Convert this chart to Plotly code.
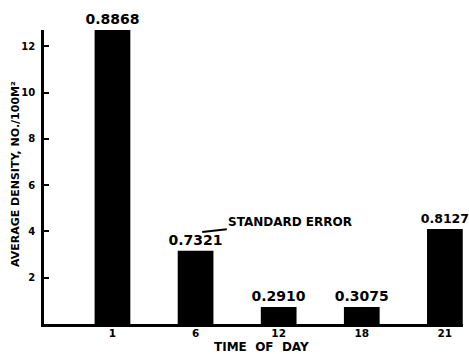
import plotly.graph_objects as go

hours = ["1", "6", "12", "18", "21"]
density = [12.7, 3.16, 0.73, 0.73, 4.10]
std_error = ["0.8868", "0.7321", "0.2910", "0.3075", "0.8127"]
y_ticks = [2, 4, 6, 8, 10, 12]

FONT = "DejaVu Sans"

fig = go.Figure(
    go.Bar(
        x=hours,
        y=density,
        text=std_error,
        textposition="outside",
        constraintext="none",
        cliponaxis=False,
        textfont=dict(family=FONT, size=[14, 14, 14, 14, 12.5], color="black", weight="bold"),
        marker=dict(color="black", line=dict(width=0)),
        width=0.43,
    )
)

fig.add_annotation(
    x=1.08, y=3.97, xref="x", yref="y",
    ax=2.14, ay=4.41, axref="x", ayref="y",
    text="STANDARD ERROR",
    showarrow=True, arrowhead=0, arrowwidth=2, arrowcolor="black",
    font=dict(family=FONT, size=12, color="black", weight="bold"),
)

# axis titles placed as annotations for exact positioning
fig.add_annotation(
    x=0.5, y=-0.079, xref="paper", yref="paper", xanchor="center", yanchor="middle",
    xshift=8, borderpad=0, text="TIME\u00a0 OF\u00a0 DAY", showarrow=False,
    font=dict(family=FONT, size=12, color="black", weight="bold"),
)
fig.add_annotation(
    x=-0.069, y=0.5, xref="paper", yref="paper", xanchor="center", yanchor="middle",
    yshift=3, text="AVERAGE DENSITY, NO./100M²", textangle=-90, showarrow=False,
    font=dict(family=FONT, size=11, color="black", weight="bold"),
)

fig.update_layout(
    width=469, height=354,
    margin=dict(l=44, r=6, t=30, b=30, autoexpand=False),
    paper_bgcolor="white", plot_bgcolor="white",
    showlegend=False,
    font=dict(family=FONT, color="black"),
    xaxis=dict(
        type="category",
        range=[-0.824, 4.218],
        automargin=False,
        showline=True, linecolor="black", linewidth=2.5,
        showgrid=False, zeroline=False, ticks="",
        ticklabelstandoff=-2,
        tickfont=dict(family=FONT, size=10.5, color="black", weight="bold"),
    ),
    yaxis=dict(
        range=[0, 12.7],
        automargin=False,
        tickvals=y_ticks,
        showline=True, linecolor="black", linewidth=2.5,
        showgrid=False, zeroline=False,
        ticks="inside", ticklen=5, tickwidth=2, tickcolor="black",
        ticklabelstandoff=4,
        tickfont=dict(family=FONT, size=10, color="black", weight="bold"),
    ),
)

fig.write_html(
    "out.html",
    config={"displayModeBar": False},
    post_script="document.body.style.margin='0';document.body.style.overflow='hidden';",
)
